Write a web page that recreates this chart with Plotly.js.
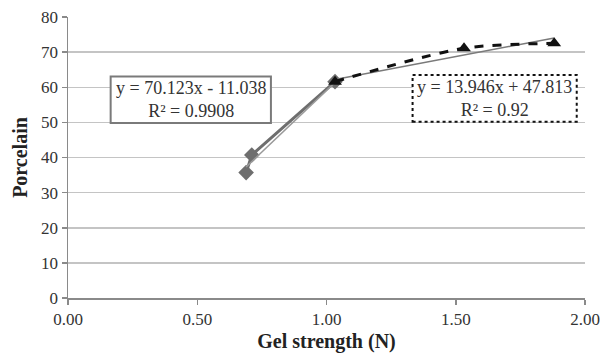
<!DOCTYPE html>
<html>
<head>
<meta charset="utf-8">
<script src="https://cdn.plot.ly/plotly-3.0.1.min.js"></script>
<style>html,body{margin:0;padding:0;background:#fff;}#chart{width:600px;height:358px;}</style>
</head>
<body>
<div id="chart"></div>
<script>
// Data
const gelDiamond = [0.689, 0.711, 1.033];
const porcDiamond = [35.7, 40.7, 61.6];
const gelTriangle = [1.033, 1.532, 1.881];
const porcTriangle = [61.6, 71.1, 72.5];
// Trend line equations (slope, intercept) as shown in the chart
const trendDiamond = [70.123, -11.038];
const trendTriangle = [13.946, 47.813];
const xTicks = [0, 0.5, 1, 1.5, 2];
const xTickLabels = ["0.00", "0.50", "1.00", "1.50", "2.00"];
const yTicks = [0, 10, 20, 30, 40, 50, 60, 70, 80];

function trendLine(xs, c) {
  const x0 = Math.min(...xs), x1 = Math.max(...xs);
  return {x: [x0, x1], y: [c[0] * x0 + c[1], c[0] * x1 + c[1]]};
}
const tD = trendLine(gelDiamond, trendDiamond);
const tT = trendLine(gelTriangle, trendTriangle);

const serif = "Liberation Serif, Times New Roman, serif";

const traces = [
  {x: gelDiamond, y: porcDiamond, mode: "lines+markers", type: "scatter",
   line: {color: "#6e6e6e", width: 3},
   marker: {symbol: "diamond", size: 12, color: "#6e6e6e"}},
  {x: tD.x, y: tD.y, mode: "lines", type: "scatter",
   line: {color: "#9a9a9a", width: 1.5}},
  {x: tT.x, y: tT.y, mode: "lines", type: "scatter",
   line: {color: "#7a7a7a", width: 1.5}},
  {x: gelTriangle, y: porcTriangle, mode: "lines+markers", type: "scatter",
   line: {color: "#111111", width: 3, dash: "dash", shape: "spline", smoothing: 0.8},
   marker: {symbol: "triangle-up", size: 12, color: "#111111"}}
];

const layout = {
  width: 600, height: 358,
  margin: {l: 68, r: 15, t: 17, b: 60},
  paper_bgcolor: "#fff", plot_bgcolor: "#fff",
  showlegend: false,
  font: {family: serif, color: "#333"},
  xaxis: {
    range: [0, 2], tickvals: xTicks, ticktext: xTickLabels,
    showgrid: false, zeroline: false,
    showline: true, linecolor: "#8a8a8a", linewidth: 1.5,
    ticks: "outside", ticklen: 5, tickcolor: "#8a8a8a", tickwidth: 1.5,
    tickfont: {family: serif, size: 17, color: "#333"},
    title: {text: "<b>Gel strength (N)</b>", font: {family: serif, size: 20, color: "#222"}, standoff: 6}
  },
  yaxis: {
    range: [0, 80], tickvals: yTicks,
    showgrid: true, gridcolor: "#c4c4c4", gridwidth: 1.5,
    zeroline: false,
    showline: true, linecolor: "#8a8a8a", linewidth: 1.5,
    ticks: "outside", ticklen: 5, tickcolor: "#8a8a8a", tickwidth: 1.5,
    tickfont: {family: serif, size: 17, color: "#333"},
    title: {text: "<b>Porcelain</b>", font: {family: serif, size: 20, color: "#222"}, standoff: 8}
  },
  shapes: [
    {type: "rect", xref: "x", yref: "y", x0: 0.165, x1: 0.785, y0: 49.8, y1: 63.05,
     fillcolor: "#fff", line: {color: "#7a7a7a", width: 2}, layer: "above"},
    {type: "rect", xref: "x", yref: "y", x0: 1.333, x1: 1.968, y0: 50.2, y1: 63.5,
     fillcolor: "#fff", line: {color: "#111", width: 2, dash: "dot"}, layer: "above"}
  ],
  annotations: [
    {xref: "x", yref: "y", x: 0.475, y: 56.4, showarrow: false,
     text: "y = 70.123x - 11.038<br>R² = 0.9908",
     font: {family: serif, size: 18, color: "#333"}, align: "center"},
    {xref: "x", yref: "y", x: 1.65, y: 56.85, showarrow: false,
     text: "y = 13.946x + 47.813<br>R² = 0.92",
     font: {family: serif, size: 18, color: "#333"}, align: "center"}
  ]
};

Plotly.newPlot("chart", traces, layout, {staticPlot: true, displayModeBar: false});
</script>
</body>
</html>
